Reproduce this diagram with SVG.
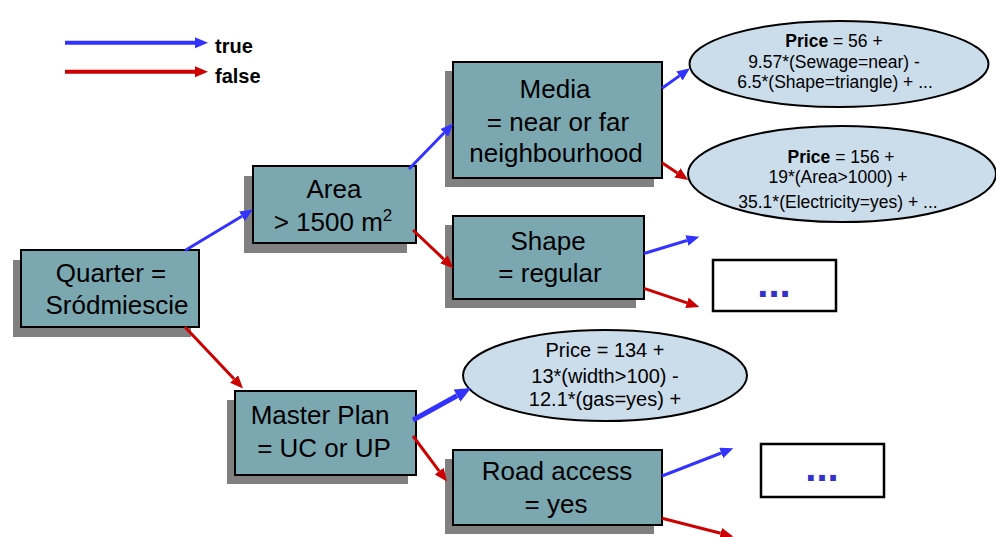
<svg xmlns="http://www.w3.org/2000/svg" width="996" height="537" viewBox="0 0 996 537">
  <style>
    .box { fill: #7aa7b0; stroke: #000; stroke-width: 2; }
    .shadow { fill: #808080; }
    .leaf { fill: #cbdcea; stroke: #000; stroke-width: 2; }
    .more { fill: #fff; stroke: #000; stroke-width: 2.5; }
    .lbl { font-family: "Liberation Sans", Arial, sans-serif; font-size: 26px; fill: #000; text-anchor: middle; }
    .eq { font-family: "Liberation Sans", Arial, sans-serif; font-size: 17.5px; fill: #000; text-anchor: middle; }
    .eq3 { font-family: "Liberation Sans", Arial, sans-serif; font-size: 20px; fill: #000; text-anchor: middle; }
    .dots { font-family: "Liberation Sans", Arial, sans-serif; font-size: 40px; font-weight: bold; fill: #3333cc; text-anchor: middle; }
    .key { font-family: "Liberation Sans", Arial, sans-serif; font-size: 20px; font-weight: bold; fill: #000; }
    .t { stroke: #3333ff; stroke-width: 3; fill: none; marker-end: url(#headT); }
    .f { stroke: #cc0000; stroke-width: 3; fill: none; marker-end: url(#headF); }
  </style>
  <defs>
    <marker id="headT" markerUnits="userSpaceOnUse" markerWidth="14" markerHeight="12" refX="0" refY="5.5" orient="auto">
      <path d="M0,0 L13,5.5 L0,11 z" fill="#3333ff"/>
    </marker>
    <marker id="headF" markerUnits="userSpaceOnUse" markerWidth="14" markerHeight="12" refX="0" refY="5.5" orient="auto">
      <path d="M0,0 L13,5.5 L0,11 z" fill="#cc0000"/>
    </marker>
    <marker id="headTbig" markerUnits="userSpaceOnUse" markerWidth="17" markerHeight="15" refX="0" refY="7" orient="auto">
      <path d="M0,0 L16,7 L0,14 z" fill="#3333ff"/>
    </marker>
  </defs>

  <!-- legend -->
  <g id="legend">
    <line class="t" x1="65" y1="42.7" x2="195" y2="42.7" style="stroke-width:4"/>
    <text class="key" x="215" y="53">true</text>
    <line class="f" x1="65" y1="71.7" x2="195" y2="71.7" style="stroke-width:4"/>
    <text class="key" x="215" y="83">false</text>
  </g>

  <!-- decision nodes -->
  <g id="quarter">
    <rect class="shadow" x="13" y="260" width="178" height="77"/>
    <rect class="box" x="21" y="250" width="178" height="77"/>
    <text class="lbl" x="111" y="282">Quarter =</text>
    <text class="lbl" x="117" y="314">Sródmiescie</text>
  </g>
  <g id="area">
    <rect class="shadow" x="244" y="176" width="163" height="77"/>
    <rect class="box" x="253" y="166" width="163" height="77"/>
    <text class="lbl" x="334" y="198">Area</text>
    <text class="lbl" x="333" y="231">&gt; 1500 m<tspan font-size="17" dy="-10">2</tspan></text>
  </g>
  <g id="media">
    <rect class="shadow" x="445" y="71" width="209" height="116"/>
    <rect class="box" x="453" y="62" width="209" height="116"/>
    <text class="lbl" x="555" y="98">Media</text>
    <text class="lbl" x="558" y="131">= near or far</text>
    <text class="lbl" x="556" y="162">neighbourhood</text>
  </g>
  <g id="shape">
    <rect class="shadow" x="445" y="225" width="191" height="83"/>
    <rect class="box" x="453" y="216" width="191" height="83"/>
    <text class="lbl" x="548" y="250">Shape</text>
    <text class="lbl" x="550" y="282">= regular</text>
  </g>
  <g id="masterplan">
    <rect class="shadow" x="227" y="400" width="181" height="84"/>
    <rect class="box" x="235" y="391" width="181" height="84"/>
    <text class="lbl" x="320" y="424">Master Plan</text>
    <text class="lbl" x="324" y="457">= UC or UP</text>
  </g>
  <g id="road">
    <rect class="shadow" x="445" y="459" width="209" height="75"/>
    <rect class="box" x="453" y="450" width="209" height="75"/>
    <text class="lbl" x="557" y="480">Road access</text>
    <text class="lbl" x="556" y="513">= yes</text>
  </g>

  <!-- leaf models -->
  <g id="leaf1">
    <ellipse class="leaf" cx="839" cy="64" rx="149.5" ry="43"/>
    <text class="eq" x="834" y="47"><tspan font-weight="bold">Price</tspan> = 56 +</text>
    <text class="eq" x="834" y="68">9.57*(Sewage=near) -</text>
    <text class="eq" x="835" y="88">6.5*(Shape=triangle) + ...</text>
  </g>
  <g id="leaf2">
    <ellipse class="leaf" cx="842" cy="174" rx="154" ry="48"/>
    <text class="eq" x="841" y="163"><tspan font-weight="bold">Price</tspan> = 156 +</text>
    <text class="eq" x="838" y="183">19*(Area&gt;1000) +</text>
    <text class="eq" x="838" y="208">35.1*(Electricity=yes) + ...</text>
  </g>
  <g id="leaf3">
    <ellipse class="leaf" cx="605" cy="375.5" rx="142" ry="45.5"/>
    <text class="eq3" x="605" y="357">Price = 134 +</text>
    <text class="eq3" x="605" y="383">13*(width&gt;100) -</text>
    <text class="eq3" x="605" y="406">12.1*(gas=yes) +</text>
  </g>

  <!-- collapsed subtrees -->
  <g id="more1">
    <rect class="more" x="713" y="260" width="123" height="51"/>
    <text class="dots" x="774" y="297">...</text>
  </g>
  <g id="more2">
    <rect class="more" x="761" y="444" width="123" height="53"/>
    <text class="dots" x="822" y="481">...</text>
  </g>

  <!-- connectors -->
  <g id="edges">
    <line class="t" x1="185" y1="250.5" x2="241.9" y2="216.2"/>
    <line class="f" x1="185" y1="327" x2="234.1" y2="379"/>
    <line class="t" x1="409" y1="169" x2="444.2" y2="132.8"/>
    <line class="f" x1="413" y1="230" x2="443.9" y2="259.3"/>
    <line class="t" x1="662" y1="88.3" x2="679.4" y2="75.9"/>
    <line class="f" x1="662" y1="162.7" x2="677.4" y2="172.9"/>
    <line class="t" x1="644" y1="253.5" x2="686.9" y2="240.5"/>
    <line class="f" x1="644" y1="288.3" x2="687" y2="302.8"/>
    <line class="t" x1="413" y1="420" x2="457" y2="395.7" style="stroke-width:5; marker-end:url(#headTbig)"/>
    <line class="f" x1="413" y1="436" x2="439.2" y2="471.1"/>
    <line class="t" x1="662" y1="476" x2="721.2" y2="453"/>
    <line class="f" x1="662" y1="518.3" x2="720.7" y2="533.3"/>
  </g>
</svg>
